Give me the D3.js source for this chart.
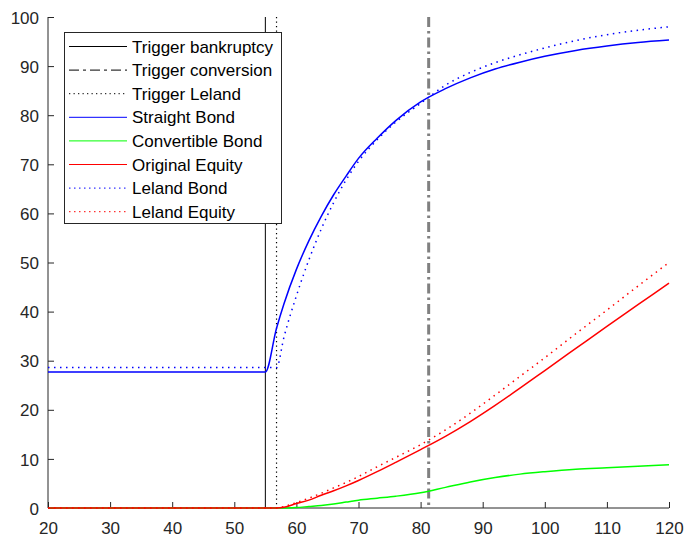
<!DOCTYPE html>
<html>
<head>
<meta charset="utf-8">
<script src="https://cdn.jsdelivr.net/npm/d3@7"></script>
<style>
  body { margin: 0; background: #fff; }
  svg { font-family: "Liberation Sans", Arial, sans-serif; }
  .axis text { fill: #262626; font-size: 17px; }
  .axis path, .axis line { stroke: #262626; }
  .legend text { fill: #000; font-size: 17px; }
</style>
</head>
<body>
<svg class="chart" width="688" height="540"></svg>
<script>
// values
var xs = [20, 55, 56.8, 58, 60, 62, 64, 66, 68, 70, 73, 76, 80, 84, 88, 92, 96, 100, 105, 110, 115, 120];

var straightBond    = [27.7, 27.7, 36.6, 41.6, 48.6, 54.4, 59.4, 63.8, 67.6, 71.2, 75.3, 78.9, 82.7, 85.4, 87.6, 89.4, 90.8, 92.0, 93.2, 94.1, 94.8, 95.3];
var convertibleBond = [0, 0, 0, 0, 0.1, 0.3, 0.5, 0.8, 1.2, 1.6, 2.0, 2.4, 3.1, 4.2, 5.3, 6.2, 6.9, 7.4, 7.9, 8.2, 8.5, 8.8];
var originalEquity  = [0, 0, 0, 0.15, 0.9, 1.6, 2.6, 3.5, 4.5, 5.6, 7.4, 9.3, 11.9, 14.6, 17.6, 20.9, 24.4, 28.0, 32.5, 37.0, 41.4, 45.8];
var lelandBond      = [28.6, 28.6, 28.6, 34.8, 43.2, 50.5, 56.8, 62.2, 66.8, 70.6, 75.0, 78.6, 82.4, 86.1, 88.7, 90.7, 92.3, 93.7, 95.2, 96.4, 97.3, 98.0];
var lelandEquity    = [0, 0, 0, 0.3, 1.1, 2.0, 3.0, 4.1, 5.2, 6.4, 8.4, 10.3, 12.9, 15.9, 19.3, 23.0, 26.8, 30.6, 35.5, 40.3, 45.2, 50.0];

var triggerBankruptcy = 55;
var triggerLeland = 56.8;
var triggerConversion = 81.3;

var xTicks = [20, 30, 40, 50, 60, 70, 80, 90, 100, 110, 120];
var yTicks = [0, 10, 20, 30, 40, 50, 60, 70, 80, 90, 100];

var legendLabels = ["Trigger bankruptcy", "Trigger conversion", "Trigger Leland", "Straight Bond",
                    "Convertible Bond", "Original Equity", "Leland Bond", "Leland Equity"];

(function() {
  var svg = d3.select(".chart");

  var x = d3.scaleLinear().domain([20, 120]).range([48, 669]);
  var y = d3.scaleLinear().domain([0, 100]).range([508, 17]);

  // axes, ticks pointing inward like matlab
  var xAxis = d3.axisBottom(x).tickValues(xTicks).tickSizeInner(-6).tickSizeOuter(0).tickPadding(14);
  var yAxis = d3.axisLeft(y).tickValues(yTicks).tickSizeInner(-6).tickSizeOuter(0).tickPadding(9);

  var gx = svg.append("g")
    .attr("class", "axis")
    .attr("transform", "translate(0," + y(0) + ")")
    .call(xAxis);
  gx.select(".domain").attr("d", "M" + x(20) + ",0H" + x(120));

  var gy = svg.append("g")
    .attr("class", "axis")
    .attr("transform", "translate(" + x(20) + ",0)")
    .call(yAxis);
  gy.select(".domain").attr("d", "M0," + y(0) + "V" + y(100));
  gy.selectAll("text").attr("dy", "0.36em");

  // vertical trigger lines
  var vline = function(v, stroke, width, dash) {
    svg.append("line")
      .attr("x1", x(v)).attr("x2", x(v))
      .attr("y1", y(100)).attr("y2", y(0))
      .attr("stroke", stroke)
      .attr("stroke-width", width)
      .attr("stroke-dasharray", dash);
  };
  vline(triggerBankruptcy, "#000", 1, null);
  vline(triggerConversion, "#808080", 3, "10,4,2.5,4");
  vline(triggerLeland, "#000", 1.2, "1.3,3.2");

  var line = function(vals) {
    return d3.line()
      .x(function(d, i) { return x(xs[i]); })
      .y(function(d) { return y(d); })
      .curve(d3.curveMonotoneX)(vals);
  };

  var series = [
    {vals: straightBond, color: "#0000ff", dash: null},
    {vals: convertibleBond, color: "#00ff00", dash: null},
    {vals: originalEquity, color: "#ff0000", dash: null},
    {vals: lelandBond, color: "#0000ff", dash: "1.5,4.5"},
    {vals: lelandEquity, color: "#ff0000", dash: "1.5,4.5"}
  ];

  svg.selectAll("path.series")
    .data(series)
    .enter().append("path")
    .attr("class", "series")
    .attr("d", function(d) { return line(d.vals); })
    .attr("fill", "none")
    .attr("stroke", function(d) { return d.color; })
    .attr("stroke-width", 1.5)
    .attr("stroke-dasharray", function(d) { return d.dash; });

  // legend
  var legendStyles = [
    {color: "#000", dash: null},
    {color: "#000", dash: "10,4,3,4"},
    {color: "#000", dash: "1.3,3.2"},
    {color: "#0000ff", dash: null},
    {color: "#00ff00", dash: null},
    {color: "#ff0000", dash: null},
    {color: "#0000ff", dash: "1.5,3.5"},
    {color: "#ff0000", dash: "1.5,3.5"}
  ];

  var legend = svg.append("g").attr("class", "legend");
  legend.append("rect")
    .attr("x", 64.5).attr("y", 32.5)
    .attr("width", 217).attr("height", 191)
    .attr("fill", "#fff")
    .attr("stroke", "#262626");

  var item = legend.selectAll("g.item")
    .data(legendLabels)
    .enter().append("g")
    .attr("class", "item")
    .attr("transform", function(d, i) { return "translate(0," + (46.5 + i * 23.6) + ")"; });

  item.append("line")
    .attr("x1", 69).attr("x2", 127)
    .attr("stroke", function(d, i) { return legendStyles[i].color; })
    .attr("stroke-width", 1)
    .attr("stroke-dasharray", function(d, i) { return legendStyles[i].dash; });

  item.append("text")
    .attr("x", 132)
    .attr("dy", "0.36em")
    .text(function(d) { return d; });
})();
</script>
</body>
</html>
